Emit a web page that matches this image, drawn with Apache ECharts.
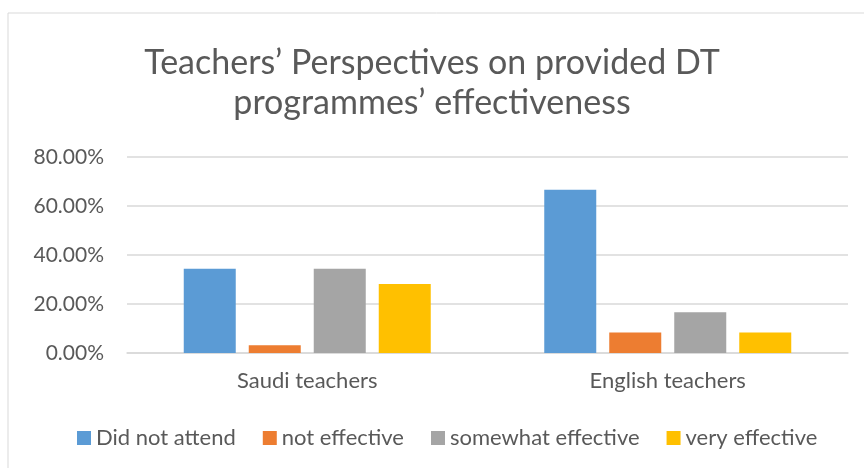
<!DOCTYPE html>
<html lang="en">
<head>
    <meta charset="UTF-8">
    <title>Teachers' Perspectives on provided DT programmes' effectiveness</title>
    <style>
        html, body { margin: 0; padding: 0; background: #fff; }
        #chart { width: 864px; height: 468px; }
    </style>
    <script src="https://cdn.jsdelivr.net/npm/echarts@6/dist/echarts.min.js"></script>
</head>
<body>
<div id="chart"></div>
<script>
    // categories and series (percent values)
    var categories = ['Saudi teachers', 'English teachers'];
    var seriesNames = ['Did not attend', 'not effective', 'somewhat effective', 'very effective'];
    var didNotAttend = [34.38, 66.67];
    var notEffective = [3.13, 8.33];
    var somewhatEffective = [34.38, 16.67];
    var veryEffective = [28.13, 8.33];
    var colors = ['#5B9BD5', '#ED7D31', '#A5A5A5', '#FFC000'];

    var textColor = '#595959';
    var font = 'Lato, "Open Sans", sans-serif';

    var chart = echarts.init(document.getElementById('chart'));

    var values = [didNotAttend, notEffective, somewhatEffective, veryEffective];
    var series = seriesNames.map(function (name, i) {
        return {
            name: name,
            type: 'bar',
            data: values[i],
            barWidth: 52,
            barGap: '25%',
            itemStyle: { color: colors[i] }
        };
    });

    chart.setOption({
        animation: false,
        color: colors,
        title: {
            text: "Teachers\u2019 Perspectives on provided DT\nprogrammes\u2019 effectiveness",
            left: 'center',
            top: 38,
            textStyle: {
                fontFamily: font,
                fontSize: 34,
                fontWeight: 'normal',
                color: textColor,
                lineHeight: 40
            }
        },
        legend: {
            data: seriesNames,
            left: 72,
            top: 422,
            icon: 'rect',
            itemWidth: 14,
            itemHeight: 14,
            itemGap: 27,
            textStyle: { fontFamily: font, fontSize: 22, color: textColor }
        },
        grid: { left: 127, right: 16, top: 157, bottom: 115 },
        xAxis: {
            type: 'category',
            data: categories,
            axisTick: { show: false },
            axisLine: { lineStyle: { color: '#d9d9d9', width: 1.5 } },
            axisLabel: { fontFamily: font, fontSize: 22, color: textColor, margin: 17 }
        },
        yAxis: {
            type: 'value',
            min: 0,
            max: 80,
            interval: 20,
            axisLine: { show: false },
            axisTick: { show: false },
            splitLine: { lineStyle: { color: '#d9d9d9', width: 1.5 } },
            axisLabel: {
                fontFamily: font, fontSize: 21, color: textColor, margin: 23,
                formatter: function (v) { return v.toFixed(2) + '%'; }
            }
        },
        graphic: [{
            type: 'rect',
            shape: { x: 8, y: 13, width: 870, height: 470 },
            style: { fill: 'none', stroke: '#d9d9d9', lineWidth: 1 },
            silent: true
        }],
        series: series
    });
</script>
</body>
</html>
